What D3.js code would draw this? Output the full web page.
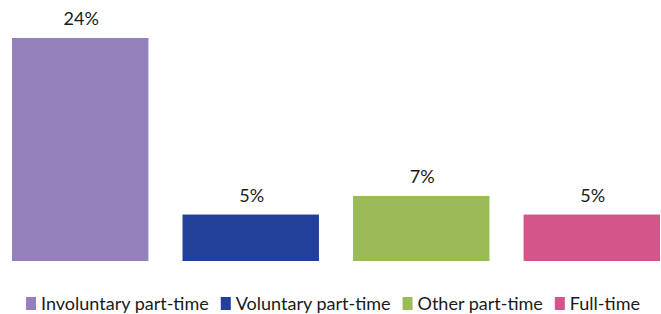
<!DOCTYPE html>
<html>
<head>
<meta charset="utf-8">
<script src="https://cdn.jsdelivr.net/npm/d3@7"></script>
<style>
  body { margin: 0; background: #fff; }
  text { font-family: Lato, "Open Sans", sans-serif; fill: #1a1a1a; }
</style>
</head>
<body>
<div id="chart"></div>
<script>
// data
var categories = ["Involuntary part-time", "Voluntary part-time", "Other part-time", "Full-time"]
var shares = [24, 5, 7, 5]
var colors = ["#9480ba", "#21409a", "#9bbb59", "#d4558a"]

var width = 661,
    height = 314;

var svg = d3.select("#chart")
  .append("svg")
    .attr("width", width)
    .attr("height", height);

var x = d3.scaleBand()
  .domain(categories)
  .range([12, 660])
  .paddingInner(0.2)
  .paddingOuter(0);

var y = d3.scaleLinear()
  .domain([0, 24])
  .range([261, 38]);

// bars
svg.selectAll("rect.bar")
  .data(categories)
  .enter()
    .append("rect")
    .attr("class", "bar")
    .attr("x", function(d) { return x(d); })
    .attr("width", x.bandwidth())
    .attr("y", function(d, i) { return y(shares[i]); })
    .attr("height", function(d, i) { return y(0) - y(shares[i]); })
    .attr("fill", function(d, i) { return colors[i]; });

// value labels
svg.selectAll("text.value")
  .data(categories)
  .enter()
    .append("text")
    .attr("class", "value")
    .attr("text-anchor", "middle")
    .attr("font-size", 18)
    .attr("x", function(d) { return x(d) + x.bandwidth() / 2 + 1; })
    .attr("y", function(d, i) { return y(shares[i]) - 13; })
    .text(function(d, i) { return shares[i] + "%"; });

// legend, laid out after measuring text
var legend = svg.append("g").attr("class", "legend");
var items = legend.selectAll("g")
  .data(categories)
  .enter()
    .append("g");

items.append("rect")
  .attr("width", 10)
  .attr("height", 13)
  .attr("y", 297)
  .attr("fill", function(d, i) { return colors[i]; });

items.append("text")
  .attr("x", 15)
  .attr("y", 310)
  .attr("font-size", 18)
  .text(function(d) { return d; });

var pos = 0;
items.each(function() {
  var w = d3.select(this).select("text").node().getComputedTextLength();
  d3.select(this).attr("transform", "translate(" + pos + ",0)");
  pos += 15 + w + 12;
});
var total = pos - 12;
legend.attr("transform", "translate(" + ((29 + 637) / 2 - total / 2) + ",0)");
</script>
</body>
</html>
